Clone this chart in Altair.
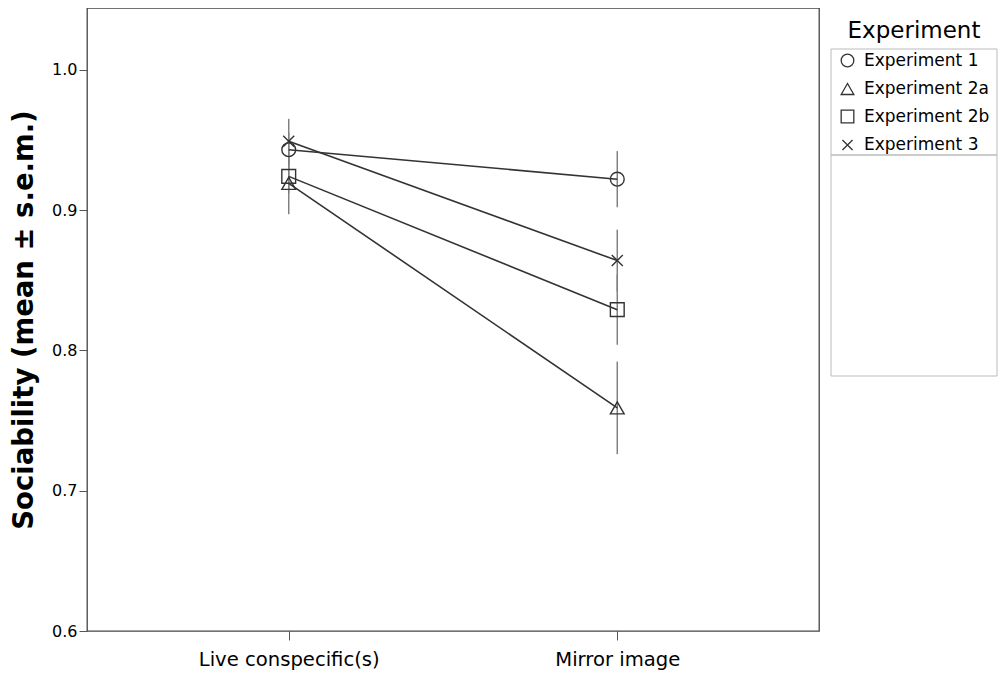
import altair as alt
import pandas as pd

conditions = ["Live conspecific(s)", "Mirror image"]
experiments = ["Experiment 1", "Experiment 2a", "Experiment 2b", "Experiment 3"]
mean_live = [0.943, 0.919, 0.924, 0.949]
mean_mirror = [0.922, 0.759, 0.829, 0.864]
sem_live = [0.012, 0.022, 0.012, 0.016]
sem_mirror = [0.020, 0.033, 0.025, 0.022]

rows = []
for i, e in enumerate(experiments):
    rows.append({"cond": conditions[0], "exp": e, "mean": mean_live[i],
                 "lo": mean_live[i] - sem_live[i], "hi": mean_live[i] + sem_live[i]})
    rows.append({"cond": conditions[1], "exp": e, "mean": mean_mirror[i],
                 "lo": mean_mirror[i] - sem_mirror[i], "hi": mean_mirror[i] + sem_mirror[i]})
df = pd.DataFrame(rows)

X_PATH = "M-0.8,-0.8L0.8,0.8M-0.8,0.8L0.8,-0.8"
shapes = ["circle", "triangle-up", "square", X_PATH]
FONT = "DejaVu Sans"

yscale = alt.Scale(domain=[0.6, 1.044], nice=False, zero=False)
xs = alt.X("cond:N", sort=conditions, title=None,
           scale=alt.Scale(type="point", padding=0.614),
           axis=alt.Axis(labelAngle=0, labelFont=FONT, labelFontSize=19.6,
                         labelColor="#000", tickSize=9, tickColor="#555",
                         domain=False, labelPadding=10, labelLimit=0))
ys = alt.Y("mean:Q", title="Sociability (mean ± s.e.m.)", scale=yscale,
           axis=alt.Axis(values=[0.6, 0.7, 0.8, 0.9, 1.0], format=".1f", grid=False,
                         labelFont=FONT, labelFontSize=16, labelColor="#000",
                         tickSize=8, tickColor="#555", domain=False, labelPadding=2,
                         titleFont=FONT, titleFontSize=27.5, titleFontWeight="bold",
                         titleColor="#000", titlePadding=13))

base = alt.Chart(df)

err = base.mark_rule(color="#808080", strokeWidth=1.5).encode(
    x=xs, y=alt.Y("lo:Q", scale=yscale), y2="hi:Q", detail="exp:N")

lines = base.mark_line(color="#333", strokeWidth=1.6).encode(
    x=xs, y=ys, detail="exp:N")

pts = base.mark_point(filled=False, color="#333", strokeWidth=1.4, size=190, opacity=1).encode(
    x=xs, y=ys,
    shape=alt.Shape("exp:N", sort=experiments,
                    scale=alt.Scale(domain=experiments, range=shapes),
                    legend=alt.Legend(title="Experiment", orient="none", legendX=752, legendY=12,
                                      titleFont=FONT, titleFontSize=23, titleAnchor="middle",
                                      titleFontWeight="normal", titleColor="#000",
                                      labelFont=FONT, labelFontSize=17,
                                      labelColor="#000", symbolSize=160,
                                      symbolStrokeColor="#333", symbolFillColor="transparent",
                                      symbolStrokeWidth=1.3, rowPadding=9.5, titlePadding=9,
                                      labelOffset=8)))

one = pd.DataFrame({"a": [0]})
box1 = alt.Chart(one).mark_rect(fillOpacity=0, stroke="#bbb", strokeWidth=1).encode(
    x=alt.value(744), x2=alt.value(910), y=alt.value(41), y2=alt.value(147))
box2 = alt.Chart(one).mark_rect(fillOpacity=0, stroke="#bbb", strokeWidth=1).encode(
    x=alt.value(744), x2=alt.value(910), y=alt.value(147), y2=alt.value(368))

chart = alt.layer(box1, box2, err, lines, pts).properties(
    width=732, height=623,
    autosize=alt.AutoSizeParams(type="none"),
    padding={"left": 79, "top": 0, "right": 179, "bottom": 40},
).configure_view(stroke="#444", strokeWidth=1.3)

chart.save("out.html", embed_options={"renderer": "svg", "actions": False})
